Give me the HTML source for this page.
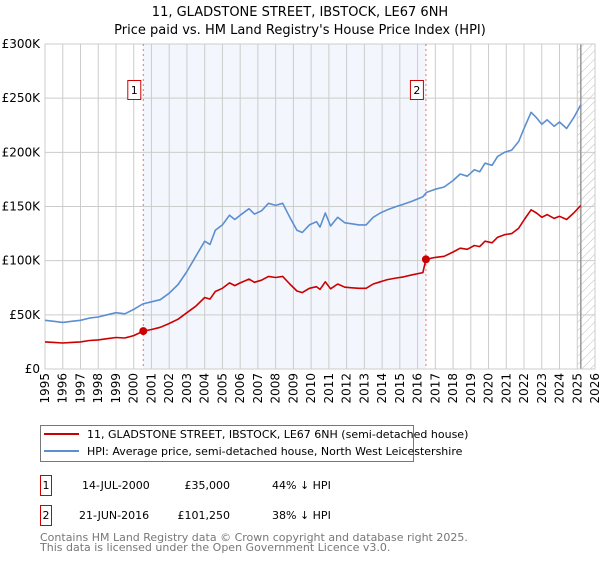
<!DOCTYPE html>
<html><head><meta charset="utf-8"><style>
body{margin:0;background:#fff;font-family:"DejaVu Sans","Liberation Sans",sans-serif;}
svg text{font-family:"DejaVu Sans","Liberation Sans",sans-serif;}
</style></head><body>
<svg id="chart" width="600" height="560" viewBox="0 0 600 560">
<defs><pattern id="hatch" width="6" height="6" patternUnits="userSpaceOnUse" patternTransform="rotate(45)"><line x1="0" y1="0" x2="0" y2="6" stroke="#bbb" stroke-width="1"/></pattern></defs>
<text x="300" y="16" text-anchor="middle" font-size="13" fill="#000">11, GLADSTONE STREET, IBSTOCK, LE67 6NH</text>
<text x="300" y="34" text-anchor="middle" font-size="13" fill="#000">Price paid vs. HM Land Registry's House Price Index (HPI)</text>
<g id="plot"></g>
<g>
<rect x="40.5" y="425.5" width="373" height="36" fill="#fff" stroke="#777"/>
<line x1="44" y1="434" x2="79" y2="434" stroke="#cc0000" stroke-width="2"/>
<text x="87" y="438" font-size="11">11, GLADSTONE STREET, IBSTOCK, LE67 6NH (semi-detached house)</text>
<line x1="44" y1="451" x2="79" y2="451" stroke="#5b8fd1" stroke-width="2"/>
<text x="87" y="455" font-size="11">HPI: Average price, semi-detached house, North West Leicestershire</text>
</g>
<g font-size="11">
<rect x="40.5" y="475.5" width="11" height="20" fill="#fff" stroke="#cc0000"/><text x="46" y="489" text-anchor="middle">1</text>
<text x="82" y="489">14-JUL-2000</text><text x="230" y="489" text-anchor="end">£35,000</text><text x="272" y="489">44% ↓ HPI</text>
<rect x="40.5" y="505.5" width="11" height="20" fill="#fff" stroke="#cc0000"/><text x="46" y="519" text-anchor="middle">2</text>
<text x="79" y="519">21-JUN-2016</text><text x="230" y="519" text-anchor="end">£101,250</text><text x="272" y="519">38% ↓ HPI</text>
</g>
<text x="40" y="541" font-size="11" fill="#777">Contains HM Land Registry data © Crown copyright and database right 2025.</text>
<text x="40" y="551" font-size="11" fill="#777">This data is licensed under the Open Government Licence v3.0.</text>
</svg>
<script>
const yearTicks=[1995,1996,1997,1998,1999,2000,2001,2002,2003,2004,2005,2006,2007,2008,2009,2010,2011,2012,2013,2014,2015,2016,2017,2018,2019,2020,2021,2022,2023,2024,2025,2026];
const valueTicks=[0,50000,100000,150000,200000,250000,300000];
const valueTickLabels=["£0","£50K","£100K","£150K","£200K","£250K","£300K"];
const hpiYears=[1995.0,1995.5,1996.0,1996.5,1997.0,1997.5,1998.0,1998.5,1999.0,1999.5,2000.0,2000.5,2001.0,2001.5,2002.0,2002.5,2003.0,2003.5,2004.0,2004.3,2004.6,2005.0,2005.4,2005.7,2006.0,2006.5,2006.8,2007.2,2007.6,2008.0,2008.4,2008.8,2009.2,2009.5,2009.9,2010.3,2010.5,2010.8,2011.1,2011.5,2011.9,2012.3,2012.7,2013.1,2013.5,2013.9,2014.3,2014.8,2015.2,2015.7,2016.3,2016.5,2017.0,2017.5,2018.0,2018.4,2018.8,2019.2,2019.5,2019.8,2020.2,2020.5,2020.9,2021.3,2021.7,2022.0,2022.4,2022.7,2023.0,2023.3,2023.7,2024.0,2024.4,2024.8,2025.2];
const hpiValues=[45000,44000,43000,44000,45000,47000,48000,50000,52000,51000,55000,60000,62000,64000,70000,78000,90000,104000,118000,115000,128000,133000,142000,138000,142000,148000,143000,146000,153000,151000,153000,140000,128000,126000,133000,136000,131000,144000,132000,140000,135000,134000,133000,133000,140000,144000,147000,150000,152000,155000,159000,163000,166000,168000,174000,180000,178000,184000,182000,190000,188000,196000,200000,202000,210000,222000,237000,232000,226000,230000,224000,228000,222000,232000,244000];
const priceYears=[1995.0,1995.5,1996.0,1996.5,1997.0,1997.5,1998.0,1998.5,1999.0,1999.5,2000.0,2000.54,2001.0,2001.5,2002.0,2002.5,2003.0,2003.5,2004.0,2004.3,2004.6,2005.0,2005.4,2005.7,2006.0,2006.5,2006.8,2007.2,2007.6,2008.0,2008.4,2008.8,2009.2,2009.5,2009.9,2010.3,2010.5,2010.8,2011.1,2011.5,2011.9,2012.3,2012.7,2013.1,2013.5,2013.9,2014.3,2014.8,2015.2,2015.7,2016.3,2016.47,2017.0,2017.5,2018.0,2018.4,2018.8,2019.2,2019.5,2019.8,2020.2,2020.5,2020.9,2021.3,2021.7,2022.0,2022.4,2022.7,2023.0,2023.3,2023.7,2024.0,2024.4,2024.8,2025.2];
const priceValues=[25000,24600,24000,24600,25000,26300,26900,28000,29100,28600,30800,35000,36500,38500,42000,46000,52000,58000,66000,64500,71500,74500,79500,77000,79500,83000,80000,82000,85500,84500,85500,78500,72000,70500,74500,76000,73500,80500,74000,78500,75500,75000,74500,74500,78500,80500,82500,84000,85000,87000,89000,101250,103000,104000,108000,111500,110500,114000,113000,118000,116500,121500,124000,125000,130000,137500,147000,144000,140000,142500,139000,141000,138000,144000,151000];
const sales=[{n:"1",year:2000.54,value:35000},{n:"2",year:2016.47,value:101250}];
const NS="http://www.w3.org/2000/svg";
const X0=45,X1=595,Y0=369,Y1=44;
function xs(y){return X0+(y-1995)/(2026-1995)*(X1-X0);}
function ys(v){return Y0-(v/300000)*(Y0-Y1);}
const g=document.getElementById('plot');
function mk(t,a,p){const e=document.createElementNS(NS,t);for(const k in a)e.setAttribute(k,a[k]);(p||g).appendChild(e);return e;}
let e=mk('rect',{x:xs(sales[0].year),y:Y1,width:xs(sales[1].year)-xs(sales[0].year),height:Y0-Y1,fill:'#f3f6fd'});


e=mk('rect',{x:xs(2025.0),y:Y1,width:X1-xs(2025.0),height:Y0-Y1,fill:'url(#hatch)'});


yearTicks.forEach((yr,i)=>{
 const l=mk('line',{x1:xs(yr),x2:xs(yr),y1:Y1,y2:Y0,stroke:'#ccc','stroke-width':1});
 
 
 const tx=xs(yr)+4, ty=373;
 const t=mk('text',{x:tx,y:ty,'text-anchor':'end','font-size':12,transform:'rotate(-90 '+tx+' '+ty+')'});
 t.textContent=yr;
 
 
});
valueTicks.forEach((v,i)=>{
 const l=mk('line',{x1:X0,x2:X1,y1:ys(v),y2:ys(v),stroke:'#ccc','stroke-width':1});
 
 
 const t=mk('text',{x:40,y:ys(v)+4,'text-anchor':'end','font-size':12});
 t.textContent=valueTickLabels[i];
 
 
});
e=mk('line',{x1:xs(2025.2),x2:xs(2025.2),y1:Y1,y2:Y0,stroke:'#999','stroke-width':1.5});


e=mk('rect',{x:X0,y:Y1,width:X1-X0,height:Y0-Y1,fill:'none',stroke:'#ccc'});


sales.forEach(s=>{
 const l=mk('line',{x1:xs(s.year),x2:xs(s.year),y1:Y1,y2:Y0,stroke:'#f07070','stroke-width':1,'stroke-dasharray':'2,3'});
 
 
});
function path(xa,va,col,name){
 const d=xa.map((x,i)=>(i?'L':'M')+xs(x).toFixed(1)+','+ys(va[i]).toFixed(1)).join('');
 const p=mk('path',{d:d,fill:'none',stroke:col,'stroke-width':1.6,'stroke-linejoin':'round'});
 
 
}
path(hpiYears,hpiValues,'#5b8fd1','hpi-line');
path(priceYears,priceValues,'#cc0000','price-paid-line');
sales.forEach(s=>{
 const c=mk('circle',{cx:xs(s.year),cy:ys(s.value),r:4,fill:'#cc0000'});
 
 
 const bx=xs(s.year)-16;
 const r=mk('rect',{x:bx+0.5,y:80.5,width:13,height:19,fill:'#fff',stroke:'#cc0000'});
 
 
 const t=mk('text',{x:bx+7,y:94,'text-anchor':'middle','font-size':11});
 t.textContent=s.n;
 
 
});
</script>
</body></html>
